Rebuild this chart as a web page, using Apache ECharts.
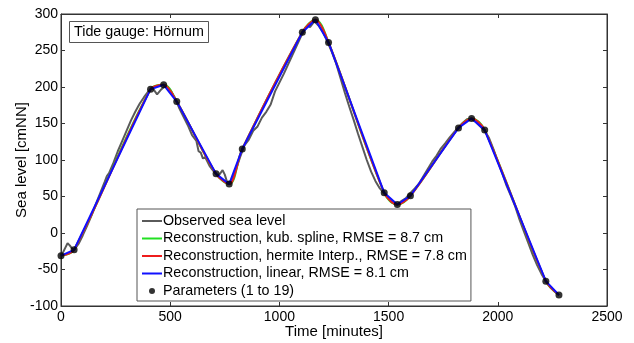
<!DOCTYPE html>
<html>
<head>
<meta charset="utf-8">
<script src="https://cdn.jsdelivr.net/npm/echarts@6/dist/echarts.min.js"></script>
<style>
  html, body { margin: 0; padding: 0; background: #fff; }
  #chart { width: 634px; height: 343px; }
</style>
</head>
<body>
<div id="chart"></div>
<script>
// Tide gauge Hörnum: observed sea level and three reconstructions from 19 parameters

// Time of each reconstruction parameter [minutes] and its sea level [cmNN]
const paramTime  = [0, 60, 410, 470, 530, 710, 770, 830, 1105, 1165, 1225, 1480, 1540, 1600, 1820, 1880, 1940, 2220, 2280];
const paramLevel = [-31, -23, 197, 203, 180, 81, 67, 115, 275, 292, 261, 55, 39, 51, 144, 157, 141, -66, -85];

// Observed gauge record [minutes] / [cmNN]
const obsTime = [
  0, 10, 20, 30, 40, 50, 60, 80, 100, 120, 140, 160, 180, 200, 210, 220, 240, 260, 280, 300,
  320, 340, 360, 380, 400, 420, 430, 440, 460, 480, 500, 520, 540, 560, 580, 600, 620, 630,
  640, 650, 660, 680, 700, 720, 740, 750, 760, 780, 800, 820, 840, 860, 880, 900, 920, 940,
  960, 980, 1000, 1020, 1040, 1060, 1080, 1100, 1120, 1130, 1140, 1160, 1180, 1200, 1220,
  1240, 1260, 1280, 1300, 1320, 1340, 1360, 1380, 1400, 1420, 1440, 1460, 1480, 1500, 1520,
  1540, 1560, 1580, 1600, 1620, 1640, 1660, 1680, 1700, 1720, 1740, 1760, 1780, 1800, 1820,
  1840, 1860, 1880, 1900, 1920, 1940, 1960, 1980, 2000, 2020, 2040, 2060, 2080, 2100, 2120,
  2140, 2160, 2180, 2200, 2220, 2240, 2260, 2280
];
const obsLevel = [
  -31, -26, -20, -14, -17, -21, -23, -15, -3, 10, 24, 40, 55, 70, 78, 82, 96, 112, 126, 140,
  154, 166, 177, 186, 194, 199, 194, 190, 197, 202, 196, 186, 172, 160, 148, 134, 126, 112,
  110, 102, 104, 92, 84, 78, 86, 80, 70, 70, 86, 104, 120, 128, 140, 146, 158, 166,
  176, 194, 206, 218, 231, 244, 257, 270, 280, 284, 282, 290, 284, 275, 262,
  248, 232, 212, 192, 173, 155, 136, 118, 100, 84, 71, 61, 54, 47, 41,
  39, 44, 48, 55, 61, 68, 78, 88, 98, 106, 116, 123, 131, 138, 145,
  151, 156, 156, 152, 146, 140, 130, 115, 98, 82, 65, 51, 36, 18, 2,
  -14, -30, -44, -56, -66, -74, -80, -85
];

// Legend texts
const nameObserved = 'Observed sea level';
const nameSpline   = 'Reconstruction, kub. spline, RMSE = 8.7 cm';
const nameHermite  = 'Reconstruction, hermite Interp., RMSE = 7.8 cm';
const nameLinear   = 'Reconstruction, linear, RMSE = 8.1 cm';
const nameParams   = 'Parameters (1 to 19)';

const obsData   = obsTime.map((t, i) => [t, obsLevel[i]]);
const paramData = paramTime.map((t, i) => [t, paramLevel[i]]);

const font = 'Arial, "Liberation Sans", Helvetica, sans-serif';
const lineIcon = 'path://M0,0L20,0L20,2L0,2Z';
const plain = v => String(v);

const chart = echarts.init(document.getElementById('chart'), null, { renderer: 'canvas' });

chart.setOption({
  animation: false,
  backgroundColor: '#ffffff',
  textStyle: { fontFamily: font },
  title: {
    text: 'Tide gauge: Hörnum',
    left: 69,
    top: 21,
    padding: [3, 5, 3, 5],
    borderColor: '#555',
    borderWidth: 1,
    backgroundColor: '#fff',
    textStyle: { fontFamily: font, fontSize: 14.3, fontWeight: 'normal', color: '#000', lineHeight: 16 }
  },
  grid: {
    left: 61, right: 27, top: 14, bottom: 37,
    outerBoundsMode: 'none', containLabel: false,
    show: true, borderColor: '#333', borderWidth: 1, backgroundColor: 'transparent'
  },
  legend: {
    orient: 'vertical',
    left: 137,
    top: 209,
    padding: [5, 4, 3, 5],
    itemWidth: 20,
    itemHeight: 6,
    itemGap: 3.5,
    borderColor: '#555',
    borderWidth: 1,
    backgroundColor: '#fff',
    textStyle: { fontFamily: font, fontSize: 14.3, color: '#000', lineHeight: 14, padding: [0, 0, 0, -4] },
    data: [
      { name: nameObserved, icon: lineIcon },
      { name: nameSpline, icon: lineIcon },
      { name: nameHermite, icon: lineIcon },
      { name: nameLinear, icon: lineIcon },
      { name: nameParams, icon: 'circle' }
    ]
  },
  xAxis: [
    {
      type: 'value', min: 0, max: 2500, interval: 500,
      name: 'Time [minutes]', nameLocation: 'middle', nameGap: 18, nameMoveOverlap: false,
      nameTextStyle: { fontFamily: font, fontSize: 15, color: '#000' },
      axisLine: { onZero: false, lineStyle: { color: '#333' } },
      axisTick: { inside: true, length: 4, lineStyle: { color: '#333' } },
      axisLabel: { fontFamily: font, fontSize: 14, color: '#000', margin: 4, formatter: plain },
      splitLine: { show: false }
    },
    {
      type: 'value', position: 'top', min: 0, max: 2500, interval: 500,
      axisLine: { onZero: false, lineStyle: { color: '#333' } },
      axisTick: { inside: true, length: 4, lineStyle: { color: '#333' } },
      axisLabel: { show: false },
      splitLine: { show: false }
    }
  ],
  yAxis: [
    {
      type: 'value', min: -100, max: 300, interval: 50,
      name: 'Sea level [cmNN]', nameLocation: 'middle', nameGap: 32, nameRotate: 90, nameMoveOverlap: false,
      nameTextStyle: { fontFamily: font, fontSize: 15, color: '#000' },
      axisLine: { show: true, onZero: false, lineStyle: { color: '#333' } },
      axisTick: { show: true, inside: true, length: 4, lineStyle: { color: '#333' } },
      axisLabel: { fontFamily: font, fontSize: 14, color: '#000', margin: 3, formatter: plain },
      splitLine: { show: false }
    },
    {
      type: 'value', position: 'right', min: -100, max: 300, interval: 50,
      axisLine: { show: true, onZero: false, lineStyle: { color: '#333' } },
      axisTick: { show: true, inside: true, length: 4, lineStyle: { color: '#333' } },
      axisLabel: { show: false },
      splitLine: { show: false }
    }
  ],
  series: [
    {
      name: nameObserved, type: 'line', data: obsData,
      showSymbol: false, symbol: 'none',
      lineStyle: { color: '#5a5a5a', width: 2 }, itemStyle: { color: '#5a5a5a' }, z: 2
    },
    {
      name: nameSpline, type: 'line', data: paramData,
      smooth: 0.38, showSymbol: false, symbol: 'none',
      lineStyle: { color: '#22e022', width: 2 }, itemStyle: { color: '#22e022' }, z: 3
    },
    {
      name: nameHermite, type: 'line', data: paramData,
      smooth: 0.3, showSymbol: false, symbol: 'none',
      lineStyle: { color: '#ee1c1c', width: 2 }, itemStyle: { color: '#ee1c1c' }, z: 4
    },
    {
      name: nameLinear, type: 'line', data: paramData,
      showSymbol: false, symbol: 'none',
      lineStyle: { color: '#1010ff', width: 2 }, itemStyle: { color: '#1010ff' }, z: 5
    },
    {
      name: nameParams, type: 'scatter', data: paramData,
      symbol: 'circle', symbolSize: 7,
      itemStyle: { color: '#000' }, z: 6
    }
  ]
});
</script>
</body>
</html>
